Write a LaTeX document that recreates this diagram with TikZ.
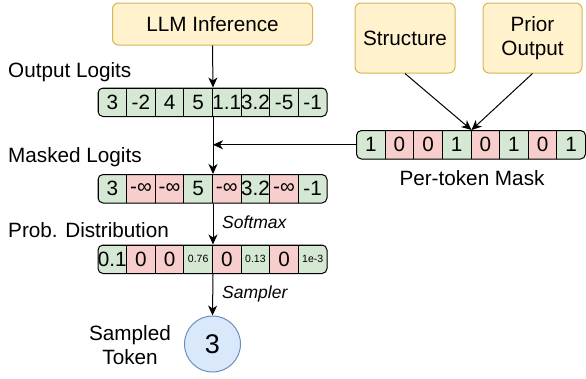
\documentclass[tikz,border=0pt]{standalone}
\usepackage{fontspec}
\setmainfont{Liberation Sans}
\usetikzlibrary{arrows.meta}
\definecolor{gfill}{HTML}{D5E8D4}
\definecolor{rfill}{HTML}{F8CECC}
\definecolor{yfill}{HTML}{FFF2CC}
\definecolor{ydraw}{HTML}{D6B656}
\definecolor{bfill}{HTML}{DAE8FC}
\definecolor{bdraw}{HTML}{6C8EBF}
\newcommand\fbig{\fontsize{20.7}{24}\selectfont}
\newcommand\fsmall{\fontsize{10.5}{12}\selectfont}
\newcommand\arrayrow[4]{%
  \begin{scope}
    \clip[rounded corners=5pt] (#2,#3) rectangle ++(229,28.5);
    \foreach \fc/\tx [count=\i] in {#4} {
      \node[cellbox,fill=\fc] (#1-\i) at ({#2+(\i-0.5)*28.625},{#3+14.25}) {\tx};
    }
  \end{scope}
  \draw[line width=1pt,rounded corners=5pt] (#2,#3) rectangle ++(229,28.5);
}
\begin{document}
\begin{tikzpicture}[x=1pt,y=-1pt,
  cellbox/.style={draw,line width=1pt,minimum width=28.625pt,minimum height=28.5pt,inner sep=0pt,font=\fbig},
  ybox/.style={draw=ydraw,fill=yfill,line width=1pt,rounded corners=6pt,inner sep=0pt,font=\fbig,align=center},
  lbl/.style={inner sep=0pt,font=\fbig,anchor=base west},
  ilbl/.style={inner sep=0pt,font=\fontsize{17.5}{20}\selectfont\itshape,anchor=base west},
  arr/.style={-{Stealth[length=10pt,width=9pt,inset=3pt]},line width=1pt}]
\useasboundingbox (0,0) rectangle (586,378);
% top boxes
\node[ybox,minimum width=200pt,minimum height=42pt] (llm) at (212.5,24) {LLM Inference};
\node[ybox,minimum width=100pt,minimum height=70pt] (st) at (405,38) {Structure};
\node[ybox,minimum width=99pt,minimum height=70pt] (po) at (532.5,38) {Prior\\Output};
% labels
\node[lbl] (lol) at (8,77) {Output Logits};
\node[lbl] (lml) at (8,162) {Masked Logits};
\node[lbl] (lpd) at (8,237) {Prob. Distribution};
% arrays
\arrayrow{ol}{98}{88}{gfill/3,gfill/-2,gfill/4,gfill/5,gfill/1.1,gfill/3.2,gfill/-5,gfill/-1}
\arrayrow{mk}{356.5}{130.5}{gfill/1,rfill/0,rfill/0,gfill/1,rfill/0,gfill/1,rfill/0,gfill/1}
\arrayrow{ml}{98}{174.5}{gfill/3,rfill/-∞,rfill/-∞,gfill/5,rfill/-∞,gfill/3.2,rfill/-∞,gfill/-1}
\arrayrow{pd}{98}{245}{gfill/0.1,rfill/0,rfill/0,gfill/{\fsmall 0.76},rfill/0,gfill/{\fsmall 0.13},rfill/0,gfill/{\fsmall 1e-3}}
\node[inner sep=0pt,font=\fbig,anchor=base] (lmk) at (472,185) {Per-token Mask};
% token
\node[circle,draw=bdraw,fill=bfill,line width=1pt,minimum size=56pt,inner sep=0pt,font=\fontsize{27}{30}\selectfont] (tok) at (212.5,344) {3};
\node[inner sep=0pt,font=\fbig,align=center] (ltok) at (130,345) {Sampled\\Token};
% italic labels
\node[ilbl] (sm) at (222,228) {Softmax};
\node[ilbl] (sp) at (222,298) {Sampler};
% connectors
\draw[arr] (llm.south) -- (ol-4.north east);
\draw[arr] (ol-4.south east) -- (ml-4.north east);
\draw[arr] (ml-4.south east) -- (pd-4.north east);
\draw[arr] (pd-4.south east) -- (tok.north);
\draw[arr] (mk-1.west) -- (mk-1.west -| ol-4.south east);
\draw[arr] (st.south) -- (mk-4.north east);
\draw[arr] (po.south) -- (mk-4.north east);
\end{tikzpicture}
\end{document}
